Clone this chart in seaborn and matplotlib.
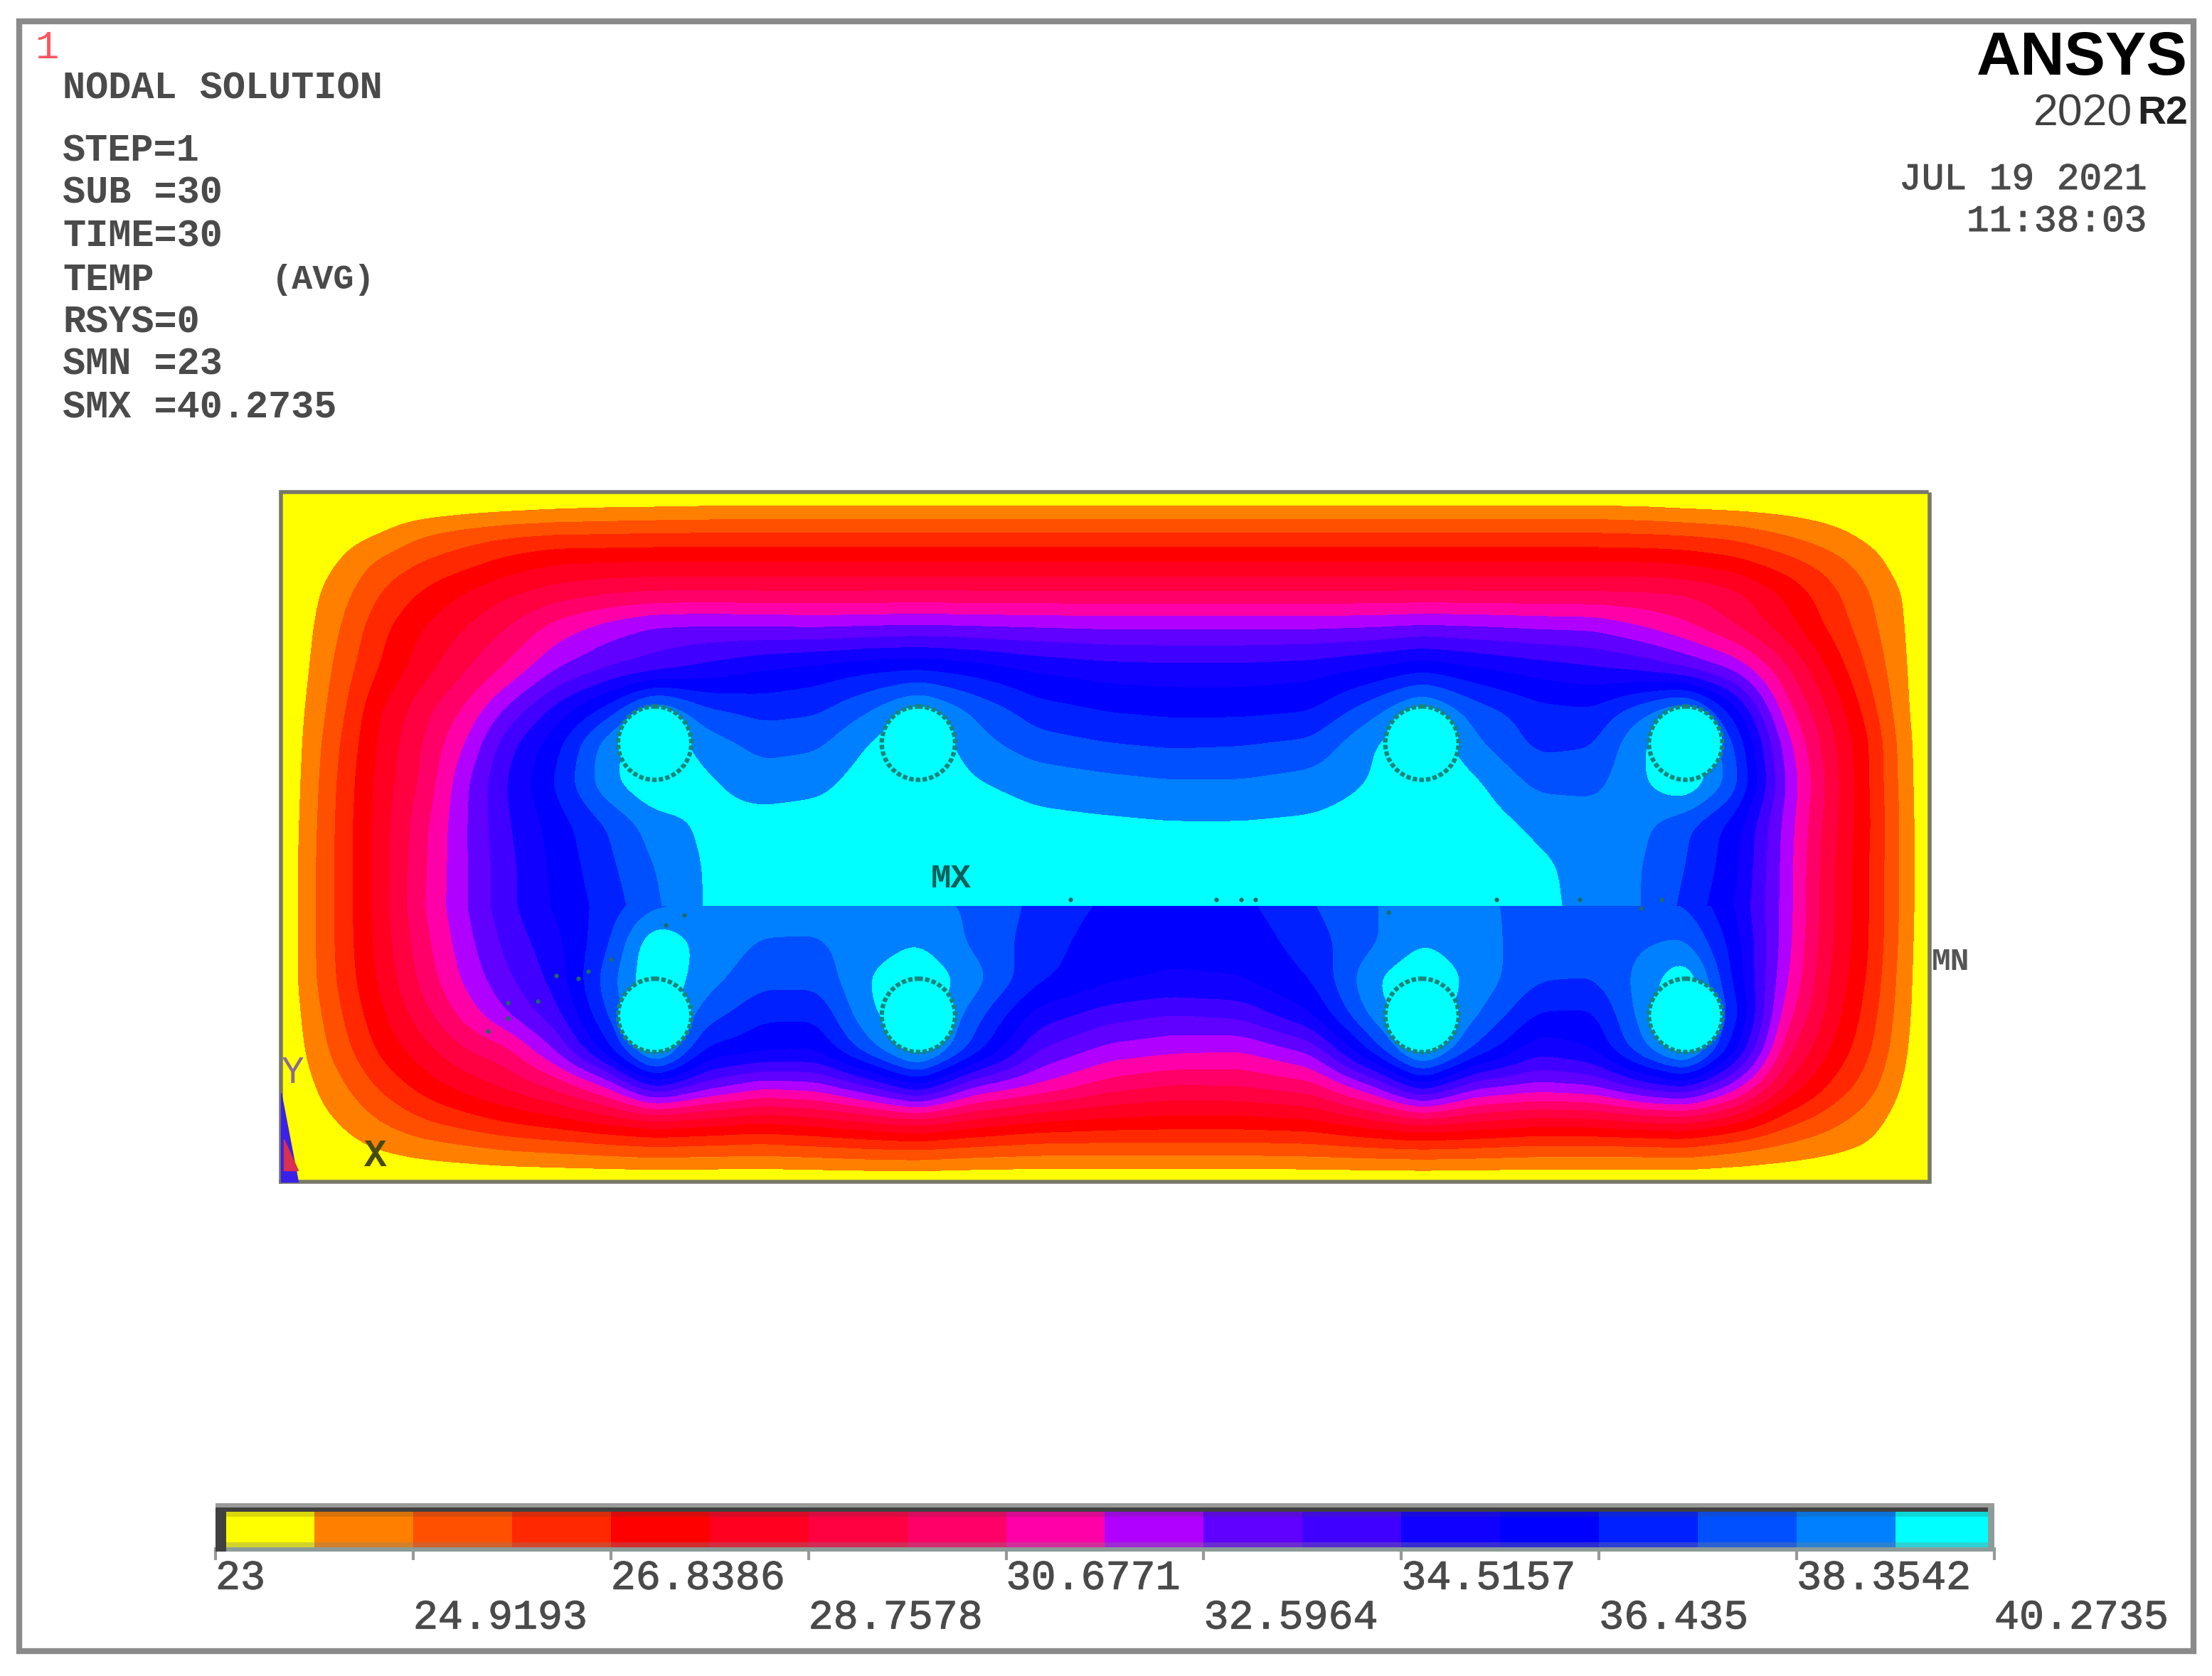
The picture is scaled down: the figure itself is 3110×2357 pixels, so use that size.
import numpy as np
import matplotlib
matplotlib.use("Agg")
import matplotlib.pyplot as plt
import matplotlib.patheffects as pe
from matplotlib.colors import ListedColormap
from matplotlib.patches import Circle, Rectangle
import seaborn as sns

# band colours, yellow (coolest) to cyan (hottest)
band_colors = ["#ffff00", "#ff8000", "#ff5000", "#ff2800", "#ff0000", "#ff0020",
               "#ff0040", "#ff0068", "#ff00a8", "#b000ff", "#6000ff", "#4000ff",
               "#1000ff", "#0000ff", "#0020ff", "#0050ff", "#0080ff", "#00ffff"]
tick_labels = ["23", "24.9193", "26.8386", "28.7578", "30.6771",
               "32.5964", "34.5157", "36.435", "38.3542", "40.2735"]
t_min = 23
t_max = 40.2735

# sample points of the temperature field (the field jumps across y=643, so that row is there twice)
grid_x = [199, 215, 240, 270, 300, 330, 360, 395, 430, 464, 500, 540, 580, 615, 651, 690, 735,
          785, 830, 880, 930, 975, 1008, 1045, 1090, 1130, 1165, 1195, 1230, 1265, 1295, 1325, 1350, 1368]
grid_y = [349, 362, 380, 400, 420, 445, 475, 505, 527, 555, 585, 615, 643, 643, 670, 695, 719, 745, 770, 795, 815, 838]

# field, in contour band units (0 = 23, 18 = 40.2735)
field_bands = [
    [0, 0, 0, 0, 0, 0, 0, 0, 0, 0, 0, 0, 0, 0, 0, 0, 0, 0, 0, 0, 0, 0, 0, 0, 0, 0, 0, 0, 0, 0, 0, 0, 0, 0],
    [0, .1, .2, .3, .4, .6, .75, .95, 1.1, 1.15, 1.25, 1.3, 1.3, 1.3, 1.3, 1.3, 1.3, 1.3, 1.3, 1.3, 1.3, 1.3, 1.3, 1.3, 1.3, 1.3, 1.2, 1.0, .85, .7, .5, .3, .1, 0],
    [0, .15, .5, 1, 2, 2.5, 2.9, 3.1, 3.1, 3.2, 3.2, 3.2, 3.2, 3.2, 3.2, 3.2, 3.2, 3.2, 3.2, 3.2, 3.2, 3.2, 3.2, 3.2, 3.2, 3.2, 3.1, 3.0, 2.7, 2.0, 1.4, .7, .2, 0],
    [0, .35, 1, 2.3, 3.1, 3.7, 4.4, 5, 5.1, 5.1, 5.1, 5.1, 5.1, 5.1, 5.1, 5.1, 5.1, 5.1, 5.1, 5.1, 5.1, 5.1, 5.1, 5.1, 5.1, 5.1, 5.1, 4.9, 4.4, 3.5, 2.6, 1.5, .4, 0],
    [0, .5, 1.5, 3, 4.1, 5, 5.8, 6.4, 6.8, 7, 7, 7, 7, 7, 7, 7, 7, 7, 7, 7, 7, 7, 7, 7, 7, 7, 7, 6.9, 6.2, 4.8, 3.4, 2, .9, 0],
    [0, .6, 1.9, 3.7, 5, 6, 7, 8.4, 9.4, 10.1, 10.2, 10.1, 10, 10.1, 10.2, 10.1, 10, 9.9, 9.9, 9.9, 9.9, 10, 10.2, 10.1, 9.9, 9.8, 9, 8.2, 7, 5.5, 3.9, 2.3, 1, 0],
    [0, .7, 2.3, 4.1, 5.6, 6.9, 8.2, 10, 11, 11.6, 12.3, 13, 13.4, 13.8, 14, 13.6, 12.9, 12.5, 12.4, 12.4, 12.6, 13.2, 13.8, 13.2, 12.6, 12.2, 11.8, 11, 9.8, 7.3, 5, 2.8, 1.1, 0],
    [0, .9, 2.6, 5, 6.7, 8.2, 10.3, 12.5, 14.5, 17.4, 15.3, 14.7, 14.9, 16, 17.5, 15.9, 14.5, 14, 13.8, 13.8, 14, 15.8, 17.5, 15.6, 14.4, 14.2, 15.8, 17.4, 13.5, 8.5, 6.1, 3.5, 1.2, 0],
    [0, 1, 2.9, 5.2, 7, 9, 11.6, 13.7, 16.5, 18, 16.5, 15.6, 15.8, 17, 18, 16.4, 15.4, 15, 14.8, 14.9, 15.2, 17, 18, 16.2, 14.7, 14.9, 17, 18, 15, 9.5, 6.5, 4, 1.4, 0],
    [0, 1.1, 3.1, 5.4, 7.2, 9.8, 12.1, 14.2, 16.7, 18, 17.2, 16.5, 16.7, 17.5, 18, 17.1, 16.6, 16.3, 16.1, 16.1, 16.4, 17.1, 18, 17.2, 15.7, 15.7, 16.9, 18, 15.5, 10, 6.8, 4, 1.5, 0],
    [0, 1.2, 3.2, 5.5, 7.7, 9.9, 11.9, 13.5, 15, 16.5, 17.2, 17.4, 17.5, 17.6, 17.7, 17.6, 17.3, 17.2, 17.1, 17.1, 17.2, 17.5, 17.7, 17.6, 16.8, 16.5, 16.2, 15.2, 13.5, 9.7, 6.6, 4.1, 1.6, 0],
    [0, 1.3, 3.2, 5.5, 7.8, 9.9, 11.7, 13.3, 14.7, 16, 17.1, 17.5, 17.6, 17.6, 17.7, 17.7, 17.7, 17.7, 17.7, 17.7, 17.7, 17.7, 17.7, 17.5, 17.2, 16.6, 16, 15, 13.3, 9.6, 6.4, 4, 1.6, 0],
    [0, 1.3, 3.2, 5.5, 7.9, 9.9, 11.7, 13.2, 14.4, 15.8, 17.1, 17.5, 17.7, 17.7, 17.7, 17.7, 17.7, 17.7, 17.7, 17.7, 17.7, 17.7, 17.7, 17.6, 17.3, 16.6, 16, 14.7, 13, 9.6, 6.4, 4, 1.6, 0],
    [0, 1.3, 3.2, 5.5, 7.9, 9.9, 11.7, 13.2, 14.4, 15.9, 16.3, 16.4, 16.3, 16.3, 16.2, 15.9, 14.7, 13.8, 13.6, 13.7, 14.9, 16, 16.3, 16.2, 15.7, 15.4, 15.3, 15, 13, 9.6, 6.4, 4, 1.6, 0],
    [0, 1.3, 3.2, 5.4, 7.6, 9.6, 11.3, 12.7, 14.8, 18, 16.6, 15.9, 15.9, 16.5, 17, 15.8, 14.5, 13.4, 13.2, 13.3, 14.5, 15.9, 17, 16.4, 15.5, 15.4, 15.9, 16.2, 13.5, 9.5, 6.3, 4, 1.5, 0],
    [0, 1.3, 3.1, 5.2, 7.3, 9.2, 10.8, 12.4, 15.5, 18, 16.4, 15.3, 15.3, 17, 18, 16.5, 14.2, 13.2, 12.9, 13, 14, 17, 18, 16.7, 15.1, 15, 16.4, 18, 13.7, 9.2, 6.1, 3.8, 1.4, 0],
    [0, 1.1, 2.8, 4.8, 6.6, 8.4, 10, 11.7, 15, 18, 15.5, 14.2, 14.2, 16.8, 18, 15.5, 12.6, 11.5, 11, 11.3, 13, 16.5, 18, 16.2, 13.9, 13.8, 16.5, 18, 14.5, 8.5, 5.8, 3.5, 1.3, 0],
    [0, .9, 2.4, 4.2, 5.6, 6.9, 7.7, 10.1, 13.5, 18, 13.8, 13.2, 13.1, 15.5, 18, 14.6, 11, 9.6, 9.2, 9, 10.2, 14.5, 18, 14.8, 12.3, 13, 15.8, 18, 13.2, 7.4, 5.1, 3.1, 1.1, 0],
    [0, .6, 1.7, 3.2, 4.4, 5.4, 6.2, 7.3, 9, 12.3, 10.5, 9.3, 9.6, 11, 13, 10, 8.9, 7.5, 6.9, 7, 7.6, 10, 12.8, 10.3, 9.7, 10, 11.5, 12.2, 9.5, 5.9, 4, 2.4, .8, 0],
    [0, .4, 1, 2, 2.9, 3.5, 4.1, 4.6, 5.3, 5.8, 5.5, 5.1, 5.5, 6, 6.5, 5.7, 5, 4.7, 4.6, 4.6, 4.8, 5.8, 6.5, 6, 5.5, 5.6, 6, 6.2, 5.2, 3.4, 2.4, 1.4, .4, 0],
    [0, .1, .5, 1, 1.4, 1.7, 2, 2.2, 2.4, 2.6, 2.5, 2.4, 2.6, 2.8, 2.9, 2.6, 2.4, 2.4, 2.4, 2.4, 2.5, 2.7, 2.8, 2.7, 2.5, 2.5, 2.5, 2.6, 2.1, 1.6, 1.2, .8, .2, 0],
    [0, 0, 0, 0, 0, 0, 0, 0, 0, 0, 0, 0, 0, 0, 0, 0, 0, 0, 0, 0, 0, 0, 0, 0, 0, 0, 0, 0, 0, 0, 0, 0, 0, 0],
]

# the eight holes and the small node specks
hole_x = [464, 651, 1008, 1195, 464, 651, 1008, 1195]
hole_y = [527, 527, 527, 527, 720, 720, 720, 720]
speck_x = [485, 472, 433, 417, 410, 394, 381, 360, 360, 346, 759, 862, 880, 890, 984, 1061, 1120, 1163, 1178]
speck_y = [649, 656, 680, 689, 694, 692, 710, 711, 722, 731, 638, 638, 638, 638, 647, 638, 638, 644, 638]

W, H = 3110, 2357
MONO = "Liberation Mono"
SANS = "Liberation Sans"
GREY = "#4a4a4a"
heavy = [pe.withStroke(linewidth=0.8, foreground=GREY)]

sns.set_theme(style="white")
fig = plt.figure(figsize=(W / 100, H / 100), dpi=100)


def px_axes(x0, y0, x1, y1, **kw):
    return fig.add_axes([x0 / W, 1 - y1 / H, (x1 - x0) / W, (y1 - y0) / H], **kw)


def soften(z, axis, n=15):
    # rounds the corners of the contours, ends stay pinned at their value
    kernel = np.bartlett(n + 2)[1:-1]
    kernel = kernel / kernel.sum()
    pad = [(0, 0), (0, 0)]
    pad[axis] = (n // 2, n // 2)
    padded = np.pad(z, pad, mode="reflect", reflect_type="odd")
    return np.apply_along_axis(lambda v: np.convolve(v, kernel, mode="valid"), axis, padded)


# contour field, the part above the jump and the part below it
ax = px_axes(395, 692, 2713, 1662)
temps = t_min + np.array(field_bands) * (t_max - t_min) / 18
levels = np.linspace(t_min, t_max, 19)
levels[-1] += 0.01
fine_x = np.arange(199, 1369, 2.0)
for rows in (slice(0, 13), slice(13, 22)):
    ys = np.array(grid_y[rows], dtype=float)
    fine_y = np.arange(ys[0], ys[-1] + 1, 2.0)
    by_x = np.array([np.interp(fine_x, grid_x, r) for r in temps[rows]])
    z = np.array([np.interp(fine_y, ys, c) for c in by_x.T]).T
    z = soften(soften(z, 0), 1)
    cs = ax.contourf(fine_x, fine_y, np.clip(z, t_min, t_max), levels=levels, colors=band_colors)
    cs.set_edgecolor("face")
    cs.set_linewidth(0.6)
for hx, hy in zip(hole_x, hole_y):
    ax.add_patch(Circle((hx, hy), 26, facecolor="#00ffff", edgecolor="#17857c", lw=4.5, ls=(0, (1.0, 0.5))))
sns.scatterplot(x=speck_x, y=speck_y, ax=ax, s=20, color="#1c6b66", linewidth=0, legend=False)
ax.set_xlim(199, 1368)
ax.set_ylim(838, 349)
ax.set_xticks([])
ax.set_yticks([])
for sp in ax.spines.values():
    sp.set_visible(True)
    sp.set_color("#78786a")
    sp.set_linewidth(4)
    sp.set_linestyle((0, (1.5, 1)))
ax.text(674, 623, "MX", family=MONO, weight="bold", fontsize=34, color="#0b5f58", ha="center", va="center")
ax.text(1383, 682, "MN", family=MONO, weight="bold", fontsize=32, color="#555555", ha="center", va="center")
ax.text(207, 761, "Y", family=MONO, fontsize=38, color="#8a6a9a", ha="center", va="center")
ax.text(266, 820, "X", family=MONO, weight="bold", fontsize=38, color="#4a4a10", ha="center", va="center")
ax.fill([199, 199, 211], [775, 838, 838], color="#3a20e8", zorder=4, clip_on=False)
ax.fill([201, 201, 211], [808, 830, 830], color="#d83050", zorder=5, clip_on=False)

# legend strip
ax_leg = px_axes(303, 2126, 2804, 2176)
sns.heatmap(np.arange(18).reshape(1, -1), cmap=ListedColormap(band_colors), cbar=False,
            ax=ax_leg, xticklabels=False, yticklabels=False)
ax_leg.set_xticks(np.arange(0, 19, 2))
ax_leg.set_xticklabels(tick_labels, family=MONO, fontsize=42, color=GREY, ha="left", rotation=0,
                       path_effects=heavy)
ax_leg.tick_params(axis="x", bottom=True, length=13, width=3, color="#999999", pad=0)
for i, tick in enumerate(ax_leg.xaxis.get_major_ticks()):
    tick.set_pad(-1 if i % 2 == 0 else 39)

# page overlay: frame and text in pixel positions
page = px_axes(0, 0, W, H, zorder=10)
page.set_xlim(0, W)
page.set_ylim(H, 0)
page.axis("off")
page.add_patch(Rectangle((27, 30), 3057, 2292, fill=False, edgecolor="#8a8a8a", lw=6))
page.add_patch(Rectangle((303, 2114), 2501, 6, color="#9a9a98", lw=0))
page.add_patch(Rectangle((303, 2120), 2501, 6, color="#404040", lw=0))
page.add_patch(Rectangle((303, 2176), 2501, 6, color="#8c9c98", lw=0))
page.add_patch(Rectangle((303, 2120), 15, 62, color="#404040", lw=0))
page.add_patch(Rectangle((2795, 2120), 9, 62, color="#8c9c98", lw=0))
page.add_patch(Rectangle((318, 2126), 2477, 7, color="#404040", alpha=0.2, lw=0))
page.add_patch(Rectangle((318, 2169), 2477, 7, color="#808080", alpha=0.35, lw=0))

info = [("NODAL SOLUTION", 124), ("STEP=1", 212), ("SUB =30", 271), ("TIME=30", 332),
        ("TEMP", 394), ("RSYS=0", 453), ("SMN =23", 512), ("SMX =40.2735", 573)]
for txt, y in info:
    page.text(88, y, txt, family=MONO, weight="bold", fontsize=38.5, color=GREY, va="center")
page.text(382, 394, "(AVG)", family=MONO, weight="bold", fontsize=35, color=GREY, va="center")
page.text(50, 68, "1", family=MONO, fontsize=40, color="#ff5560", va="center")
page.text(3018, 252, "JUL 19 2021", family=MONO, fontsize=38, color=GREY, ha="right", va="center", path_effects=heavy)
page.text(3018, 311, "11:38:03", family=MONO, fontsize=38, color=GREY, ha="right", va="center", path_effects=heavy)
page.text(3076, 83, "ANSYS", family=SANS, weight="bold", fontsize=62, color="black", ha="right", va="center")
page.text(2998, 160, "2020", family=SANS, fontsize=45, color="#404040", ha="right", va="center")
page.text(3076, 160, "R2", family=SANS, weight="bold", fontsize=40, color="#202020", ha="right", va="center")

fig.savefig("out.png", dpi=100, facecolor="white")
